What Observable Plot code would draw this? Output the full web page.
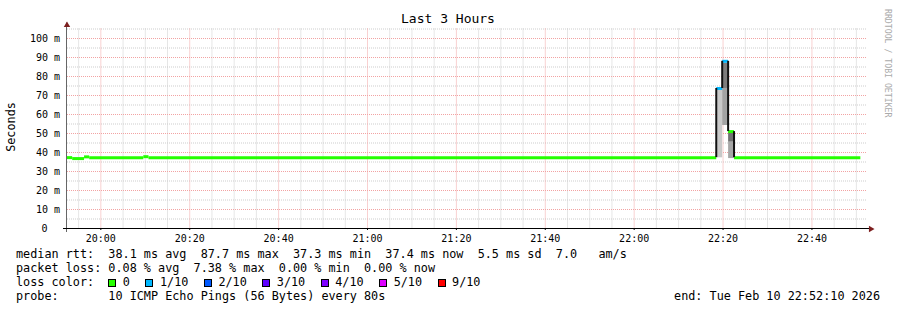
<!DOCTYPE html>
<html><head><meta charset="utf-8">
<script src="https://cdn.jsdelivr.net/npm/d3@7"></script>
<script src="https://cdn.jsdelivr.net/npm/@observablehq/plot@0.6"></script>
<style>
html,body{margin:0;padding:0;background:#fff;}
#chart{position:relative;width:897px;height:310px;overflow:hidden;font-family:"DejaVu Sans Mono",monospace;color:#000;background:#fff;}
#chart svg{position:absolute;left:0;top:0;}
.t{position:absolute;white-space:pre;line-height:14px;font-size:11.8px;}
.box{display:inline-block;width:8px;height:8px;box-sizing:border-box;border:1px solid #000;vertical-align:-1px;margin-right:6.5px;}
.lab{display:inline-block;margin-right:15.5px;}
</style></head><body><div id="chart"></div>
<script>
// ---- data ----
const rangeStart = "19:52:30";
const rangeEnd = "22:52:30";

// median rtt (ms) per step: start time, value, lost pings of 10
const medianTimes  = ["19:52:30","19:53:40","19:56:20","19:57:30","20:09:40","20:10:50","22:18:35","22:19:55","22:21:15","22:22:35"];
const medianValues = [37.3, 36.8, 37.7, 37.3, 37.8, 37.3, 73.7, 88.0, 51.0, 37.3];
const medianLoss   = [0, 0, 0, 0, 0, 0, 1, 1, 0, 0];
const medianEnd = "22:51:00";

// smoke bands (ms)
const smokeStart = ["22:18:35","22:19:55","22:19:55","22:21:15","22:21:15"];
const smokeEnd   = ["22:19:55","22:21:15","22:21:15","22:22:35","22:22:35"];
const smokeLow   = [37.2, 73.7, 54.2, 45.4, 36.8];
const smokeHigh  = [73.7, 87.0, 73.7, 50.5, 45.4];
const smokeShade = ["#c9c9c9","#7d7d7d","#a3a3a3","#717171","#a6a6a6"];

// axes
const yTicks = [0, 10, 20, 30, 40, 50, 60, 70, 80, 90, 100];
const yMinor = [5, 15, 25, 35, 45, 55, 65, 75, 85, 95, 105];
const xTickLabels = ["20:00","20:20","20:40","21:00","21:20","21:40","22:00","22:20","22:40"];

// legend
const lossLabels = ["0","1/10","2/10","3/10","4/10","5/10","9/10"];
const lossCounts = [0, 1, 2, 3, 4, 5, 9];
const lossColors = ["#26ff00","#00b8ff","#0059ff","#5e00ff","#7e00ff","#dd00ff","#ff0000"];

const title = "Last 3 Hours";
const yLabel = "Seconds";
const rttLine  = "median rtt:  38.1 ms avg  87.7 ms max  37.3 ms min  37.4 ms now  5.5 ms sd  7.0   am/s";
const lossLine = "packet loss: 0.08 % avg  7.38 % max  0.00 % min  0.00 % now";
const probeLine = "probe:       10 ICMP Echo Pings (56 Bytes) every 80s";
const endLine = "end: Tue Feb 10 22:52:10 2026";
const credit = "RRDTOOL / TOBI OETIKER";

// ---- build ----
const T = s => { const [h, m, sec] = s.split(":").map(Number); return new Date(2026, 1, 10, h, m, sec || 0); };
const lossColor = n => lossColors[lossCounts.indexOf(n)];
const tStart = T(rangeStart), tEnd = T(rangeEnd);

const medSegs = medianTimes.map((s, i) => ({
  t0: T(s), t1: T(i + 1 < medianTimes.length ? medianTimes[i + 1] : medianEnd),
  v: medianValues[i], c: lossColor(medianLoss[i])
}));
const conns = [];
for (let i = 1; i < medianValues.length; i++) {
  if (Math.abs(medianValues[i] - medianValues[i - 1]) > 2)
    conns.push({t: T(medianTimes[i]), a: medianValues[i - 1], b: medianValues[i]});
}
{
  const last = medianValues.length - 1;
  // nothing extra at the end
}
const smoke = smokeStart.map((s, i) => ({x1: T(s), x2: T(smokeEnd[i]), y1: smokeLow[i], y2: smokeHigh[i], c: smokeShade[i]}));

const xMajor = xTickLabels.map(s => T(s));
const xAll = d3.timeMinute.every(5).range(tStart, tEnd);
const xMinor = xAll.filter(d => d.getMinutes() % 20 !== 0);

const gridMinor = "#cdcdcd", gridMajor = "#f2a3a3", arrowCol = "#7d1f1f";

const chart = Plot.plot({
  width: 897, height: 310,
  marginLeft: 67, marginRight: 30, marginTop: 28.5, marginBottom: 82,
  x: {type: "time", domain: [tStart, tEnd]},
  y: {domain: [0, 105]},
  color: {type: "identity"},
  style: {fontFamily: "DejaVu Sans Mono", fontSize: "10px", background: "white", color: "black", overflow: "visible"},
  marks: [
    Plot.ruleY(yMinor, {stroke: gridMinor, strokeDasharray: "1,1"}),
    Plot.ruleX(xMinor, {stroke: gridMinor, strokeDasharray: "1,1"}),
    Plot.ruleY(yTicks.filter(d => d > 0), {stroke: gridMajor, strokeDasharray: "1,1"}),
    Plot.ruleX(xMajor, {stroke: gridMajor, strokeDasharray: "1,1"}),
    Plot.rect(smoke, {x1: "x1", x2: "x2", y1: "y1", y2: "y2", fill: "c"}),
    Plot.ruleY(medSegs, {y: "v", x1: "t0", x2: "t1", stroke: "c", strokeWidth: 3}),
    Plot.ruleX(conns, {x: "t", y1: "a", y2: "b", stroke: "#111", strokeWidth: 2, dx: -0.5}),
    Plot.ruleX([tStart], {stroke: "#666", dx: -1, insetTop: -6, insetBottom: -4}),
    Plot.ruleY([0], {stroke: "#000", insetLeft: -4, insetRight: -2}),
    Plot.dot([tStart], {x: d => d, frameAnchor: "top", symbol: "triangle", r: 2.4, fill: arrowCol, stroke: null, dy: -3.8, dx: -0.5}),
    Plot.dot([0], {y: d => d, frameAnchor: "right", symbol: "triangle", rotate: 90, r: 2.4, fill: arrowCol, stroke: null, dx: 3.3, dy: 0.5}),
    Plot.axisY(yTicks.filter(d => d > 0), {tickFormat: d => `${d} m`, tickSize: 0, tickPadding: 7.5, label: null, fontSize: 10}),
    Plot.axisY([0], {tickFormat: () => "0", tickSize: 0, tickPadding: 20, label: null, fontSize: 10}),
    Plot.axisX(xMajor, {tickFormat: d3.timeFormat("%H:%M"), tickSize: 2, tickPadding: 4, label: null, fontSize: 10})
  ]
});

const root = document.getElementById("chart");
root.appendChild(chart);

function addText(txt, css, cls = "t") {
  const d = document.createElement("div");
  d.className = cls;
  d.textContent = txt;
  Object.assign(d.style, css);
  root.appendChild(d);
  return d;
}
addText(title, {left: "0px", width: "896px", textAlign: "center", top: "11px", fontSize: "13px", lineHeight: "16px"});
addText(yLabel, {left: "-39px", width: "100px", textAlign: "center", top: "120px", transform: "rotate(-90deg)"});
addText(credit, {left: "838px", width: "100px", textAlign: "center", top: "53px", fontSize: "8.2px", lineHeight: "12px", color: "#aaa", transform: "rotate(90deg)"});
addText(rttLine, {left: "16px", top: "247px"});
addText(lossLine, {left: "16px", top: "261px"});
const lc = addText("loss color:  ", {left: "16px", top: "275px"});
lossLabels.forEach((lab, i) => {
  const b = document.createElement("span");
  b.className = "box";
  b.style.background = lossColors[i];
  lc.appendChild(b);
  const s = document.createElement("span");
  s.className = "lab";
  s.textContent = lab;
  lc.appendChild(s);
});
addText(probeLine, {left: "16px", top: "289px"});
addText(endLine, {right: "17px", top: "289px"});
</script></body></html>
